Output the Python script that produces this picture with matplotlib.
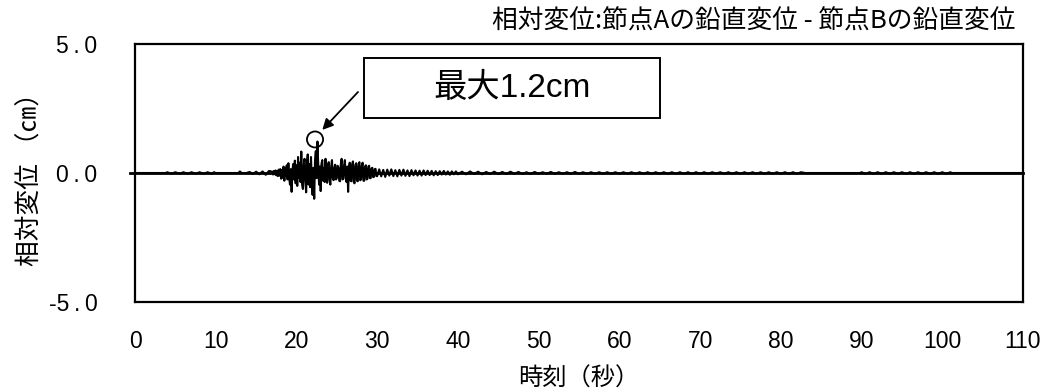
import matplotlib
matplotlib.use("Agg")
import numpy as np
import matplotlib.pyplot as plt
from matplotlib.patches import Ellipse, Rectangle

plt.rcParams['font.family'] = ['Liberation Sans', 'Noto Sans CJK JP', 'DejaVu Sans']

# ---- data ----
# quiet start, 4-10 s
t_a = [0.0, 3.8, 4.0, 4.5, 5.0, 5.5, 6.0, 6.5, 7.0, 7.5, 8.0, 8.5, 9.0, 9.5, 9.8, 10.0,
       12.8, 13.0, 13.2, 13.8, 14.2, 14.6, 15.0, 15.4, 15.8, 16.2, 16.6]
d_a = [0.0, 0.0, 0.03, -0.03, 0.03, -0.03, 0.03, -0.03, 0.03, -0.03, 0.03, -0.03, 0.03, -0.03, 0.03, 0.0,
       0.0, 0.06, 0.0, 0.0, 0.04, -0.04, 0.05, -0.05, 0.06, -0.07, 0.08]
# main shaking, 17.0-30.0 s every 0.1 s
t_b = np.round(np.arange(170, 301) / 10.0, 1).tolist()
d_b = [0.05, -0.06, 0.08, -0.05, 0.10, -0.09, 0.07, -0.12, 0.13, -0.10,
       0.15, -0.22, 0.12, -0.18, 0.25, -0.30, 0.20, -0.12, 0.30, -0.25,
       0.38, -0.20, -0.45, 0.15, -0.73, 0.10, 0.35, -0.25, 0.48, -0.40,
       0.30, -0.50, 0.62, -0.20, 0.40, -0.35, 0.83, -0.45, -0.62, 0.30,
       0.55, -0.30, -0.75, 0.40, 0.72, -0.45, 0.35, -0.55, 0.62, -0.30,
       -0.85, 0.20, -1.00, 0.50, 0.85, -0.20, 1.22, 0.30, -0.45, 0.25,
       -0.70, 0.35, 0.50, -0.30, 0.20, -0.35, 0.55, -0.25, -0.38, 0.30,
       0.42, -0.30, -0.45, 0.25, 0.50, -0.20, -0.28, 0.20, 0.32, -0.25,
       -0.20, 0.28, 0.22, -0.30, -0.32, 0.35, 0.55, -0.25, -0.22, 0.30,
       0.50, -0.20, -0.35, 0.25, -0.73, 0.20, 0.40, -0.30, -0.32, 0.35,
       0.45, -0.35, -0.40, 0.30, 0.38, -0.30, -0.32, 0.35, 0.42, -0.28,
       -0.25, 0.30, 0.40, -0.30, -0.30, 0.25, 0.30, -0.25, -0.22, 0.25,
       0.28, -0.20, -0.20, 0.18, 0.20, -0.16, -0.15, 0.15, 0.16, -0.12,
       -0.12]
# decay, 30.25-40.0 s every 0.25 s
t_c = np.round(np.arange(121, 161) * 0.25, 2).tolist()
d_c = [0.14, -0.13, 0.12, -0.15, 0.13, -0.10, 0.14, -0.12, 0.11, -0.13,
       0.12, -0.10, 0.13, -0.11, 0.10, -0.12, 0.11, -0.09, 0.10, -0.10,
       0.09, -0.10, 0.10, -0.08, 0.09, -0.08, 0.08, -0.09, 0.07, -0.08,
       0.07, -0.06, 0.08, -0.06, 0.06, -0.07, 0.06, -0.05, 0.06, -0.05]
# tail, 40.5-83.0 s every 0.5 s
t_d = np.round(np.arange(81, 167) * 0.5, 1).tolist()
d_d = [0.05, -0.05, 0.06, -0.04, 0.05, -0.05, 0.04, -0.04, 0.05, -0.04,
       0.04, -0.04, 0.05, -0.03, 0.04, -0.04, 0.03, -0.04, 0.04, -0.03,
       0.03, -0.03, 0.04, -0.03, 0.03, -0.03, 0.03, -0.03, 0.04, -0.03,
       0.03, -0.03, 0.03, -0.03, 0.03, -0.03, 0.03, -0.03, 0.03, -0.03,
       0.03, -0.03, 0.03, -0.03, 0.03, -0.03, 0.03, -0.03, 0.03, -0.03,
       0.03, -0.03, 0.03, -0.03, 0.03, -0.03, 0.03, -0.03, 0.03, -0.03,
       0.03, -0.03, 0.03, -0.02, 0.03, -0.03, 0.03, -0.03, 0.03, -0.03,
       0.03, -0.03, 0.03, -0.03, 0.03, -0.03, 0.03, -0.03, 0.03, -0.03,
       0.03, -0.03, 0.03, -0.03, 0.03, 0.0]
# quiet end, 90-101 s
t_e = [89.8, 90.0, 90.5, 91.0, 91.5, 92.0, 92.5, 93.0, 93.5, 94.0, 94.5, 95.0, 95.5, 96.0,
       96.5, 97.0, 97.5, 98.0, 98.5, 99.0, 99.5, 100.0, 100.5, 101.0, 101.2, 110.0]
d_e = [0.0, 0.03, -0.03, 0.03, -0.03, 0.03, -0.03, 0.03, -0.03, 0.03, -0.03, 0.03, -0.03, 0.03,
       -0.03, 0.03, -0.03, 0.03, -0.03, 0.03, -0.03, 0.03, -0.03, 0.03, 0.0, 0.0]

time_s = t_a + t_b + t_c + t_d + t_e
rel_disp_cm = d_a + d_b + d_c + d_d + d_e

x_ticks = [0, 10, 20, 30, 40, 50, 60, 70, 80, 90, 100, 110]
y_ticks = [-5.0, 0.0, 5.0]
y_ticklabels = ["-5\u2009.\u20090", "0\u2009.\u20090", "5\u2009.\u20090"]
peak_time = 22.6
peak_value = 1.2

fig = plt.figure(figsize=(10.62, 3.91), dpi=100)
ax = fig.add_axes([135 / 1062, 1 - 302 / 391, (1023 - 135) / 1062, (302 - 44) / 391])

ax.axhline(0, xmin=-0.006, color='black', lw=2.0, zorder=1, clip_on=False)
ax.plot(time_s, rel_disp_cm, color='black', lw=1.5, zorder=2)

ax.set_xlim(0, 110)
ax.set_ylim(-5, 5)
ax.set_xticks(x_ticks)
ax.set_yticks(y_ticks)
ax.set_yticklabels(y_ticklabels)
ax.tick_params(axis='both', length=0, labelsize=16.5)
ax.tick_params(axis='y', pad=27)
ax.tick_params(axis='x', pad=20)
for s in ax.spines.values():
    s.set_linewidth(1.6)

ax.set_xlabel("時刻（秒）", fontsize=17.5, family=['Noto Sans CJK JP'], labelpad=9)
ax.set_ylabel("相対変位 （㎝）", fontsize=18.5, family=['Noto Sans CJK JP', 'DejaVu Sans'], labelpad=4)

fig.text(1015 / 1062, 1 - 22 / 391, "相対変位:節点Aの鉛直変位 - 節点Bの鉛直変位",
         ha='right', va='center', fontsize=18.5, family=['Noto Sans CJK JP'])

# circle around the peak
circ = Ellipse((22.3, peak_value + 0.1), width=2.0, height=0.62, fill=False,
               edgecolor='black', lw=1.3, zorder=3)
ax.add_patch(circ)

# label box
box_l, box_r, box_t, box_b = 364, 660, 58, 118
fig.patches.append(Rectangle((box_l / 1062, 1 - box_b / 391), (box_r - box_l) / 1062,
                             (box_b - box_t) / 391, transform=fig.transFigure,
                             fill=True, fc='white', ec='black', lw=1.4))
fig.text((box_l + box_r) / 2 / 1062, 1 - (box_t + box_b) / 2 / 391, "最大1.2cm",
         ha='center', va='center', fontsize=24,
         family=['Liberation Sans', 'Noto Sans CJK JP'])

ax.annotate("", xy=(23.2, 1.67), xycoords='data',
            xytext=(358 / 1062, 1 - 92 / 391), textcoords='figure fraction',
            arrowprops=dict(arrowstyle='-|>', color='black', lw=1.3, mutation_scale=16,
                            shrinkA=0, shrinkB=0))

fig.savefig("out.png", dpi=100)
